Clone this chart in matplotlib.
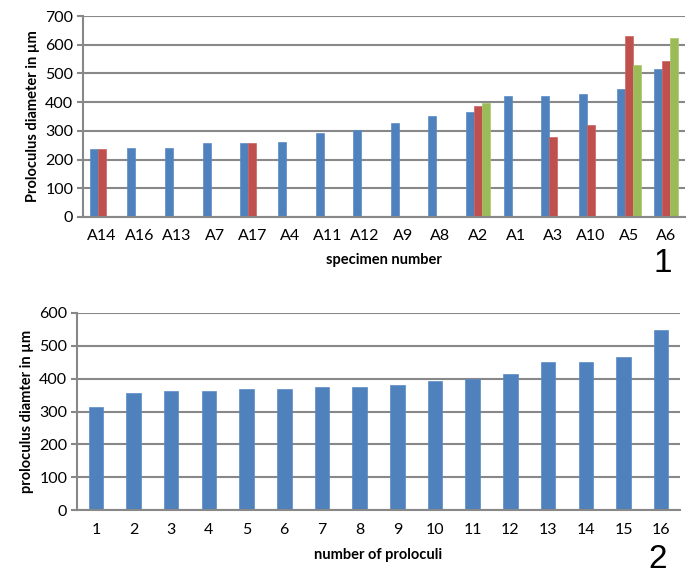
import matplotlib
matplotlib.use("Agg")
import matplotlib.pyplot as plt
import numpy as np

plt.rcParams['font.family'] = ['Lato', 'DejaVu Sans']

# Chart 1 data
specimens = ["A14", "A16", "A13", "A7", "A17", "A4", "A11", "A12", "A9", "A8",
             "A2", "A1", "A3", "A10", "A5", "A6"]
series1 = [238, 242, 242, 258, 258, 262, 293, 302, 327, 351, 367, 422, 422, 429, 447, 514]
series2 = [238, 0, 0, 0, 258, 0, 0, 0, 0, 0, 387, 0, 280, 320, 630, 545]
series3 = [0, 0, 0, 0, 0, 0, 0, 0, 0, 0, 398, 0, 0, 0, 528, 623]
yticks1 = [0, 100, 200, 300, 400, 500, 600, 700]

# Chart 2 data
proloculi = [str(i) for i in range(1, 17)]
diam2 = [314, 355, 361, 361, 368, 368, 374, 374, 380, 392, 400, 415, 452, 452, 466, 549]
yticks2 = [0, 100, 200, 300, 400, 500, 600]

BLUE = "#4F81BD"
RED = "#C0504D"
GREEN = "#9BBB59"
GRID = "#888888"

W, H = 700, 580
fig = plt.figure(figsize=(W / 100, H / 100), dpi=100)

def style(ax, yticks):
    ax.set_yticks(yticks)
    ax.set_ylim(yticks[0], yticks[-1])
    ax.yaxis.grid(True, color=GRID, linewidth=1.5)
    ax.set_axisbelow(True)
    for s in ["top", "right"]:
        ax.spines[s].set_visible(False)
    ax.spines["left"].set_color(GRID)
    ax.spines["left"].set_linewidth(1.5)
    ax.spines["bottom"].set_color(GRID)
    ax.spines["bottom"].set_linewidth(1.5)
    ax.tick_params(axis="y", length=4, width=1.5, color=GRID, labelsize=11.5, pad=3)
    ax.tick_params(axis="x", length=0, labelsize=11.5, pad=9)

# Top chart
ax1 = fig.add_axes([83 / W, 1 - 217 / H, (685 - 83) / W, (217 - 16) / H])
x = np.arange(len(specimens))
bw = 0.213
ax1.bar(x - bw, series1, bw, color=BLUE, edgecolor="#5B8CC8", linewidth=0.5)
ax1.bar(x, series2, bw, color=RED, edgecolor="#CC6360", linewidth=0.5)
ax1.bar(x + bw, series3, bw, color=GREEN, edgecolor="#A8C86A", linewidth=0.5)
ax1.set_xticks(x)
ax1.set_xticklabels(specimens)
ax1.set_xlim(-0.5, len(specimens) - 0.5)
style(ax1, yticks1)
ax1.set_ylabel("Proloculus diameter in µm", fontsize=10.5, fontweight="bold", labelpad=4)
ax1.set_xlabel("specimen number", fontsize=10.5, fontweight="bold", labelpad=7)
fig.text(663 / W, 1 - 263 / H, "1", fontsize=24, ha="center", va="center",
         family="Liberation Sans")

# Bottom chart
ax2 = fig.add_axes([77 / W, 1 - 510 / H, (680 - 77) / W, (510 - 313) / H])
x2 = np.arange(len(proloculi))
ax2.bar(x2, diam2, 0.385, color=BLUE, edgecolor="#5B8CC8", linewidth=0.5)
ax2.set_xticks(x2)
ax2.set_xticklabels(proloculi)
ax2.set_xlim(-0.5, len(proloculi) - 0.5)
style(ax2, yticks2)
ax2.set_ylabel("proloculus diamter in µm", fontsize=10.5, fontweight="bold", labelpad=4)
ax2.set_xlabel("number of proloculi", fontsize=10.5, fontweight="bold", labelpad=8)
fig.text(658 / W, 1 - 560 / H, "2", fontsize=24, ha="center", va="center",
         family="Liberation Sans")

fig.savefig("out.png", dpi=100)
